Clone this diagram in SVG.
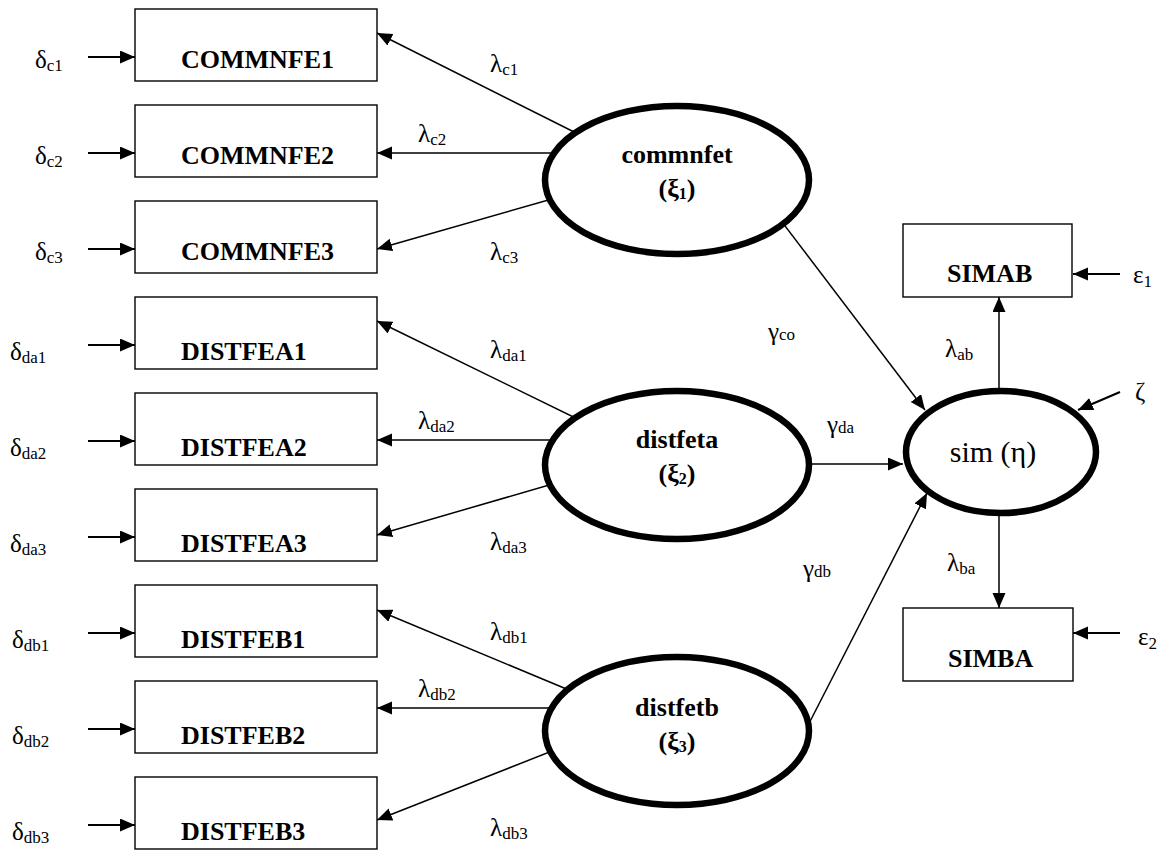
<svg xmlns="http://www.w3.org/2000/svg" width="1168" height="850" viewBox="0 0 1168 850">
  <style>
    .box { fill: #fff; stroke: #000; stroke-width: 1.4; }
    .lat { fill: #fff; stroke: #000; stroke-width: 6.5; }
    .lbl { font-family: "Liberation Serif", "Times New Roman", serif; font-size: 26px; font-weight: bold; fill: #000; }
    .sym { font-family: "Liberation Serif", "Times New Roman", serif; font-size: 25px; fill: #000; }
    .big { font-family: "Liberation Serif", "Times New Roman", serif; font-size: 30px; fill: #000; }
    .sub { font-size: 17px; }
    .edge { stroke: #000; stroke-width: 1.5; fill: none; marker-end: url(#head); }
    .err { stroke: #000; stroke-width: 2; fill: none; marker-end: url(#head); }
  </style>
  <defs>
    <marker id="head" markerUnits="userSpaceOnUse" markerWidth="16" markerHeight="14" refX="15" refY="6.5" orient="auto">
      <path d="M0,0 L15,6.5 L0,13 Z" fill="#000"/>
    </marker>
  </defs>
  <rect width="1168" height="850" fill="#fff"/>

  <!-- connectors (drawn first so the latent ellipses cover their inner ends) -->
  <g id="connectors">
    <!-- error terms into indicators -->
    <line class="err" x1="88" y1="57" x2="135" y2="57"/>
    <line class="err" x1="88" y1="153" x2="135" y2="153"/>
    <line class="err" x1="88" y1="249" x2="135" y2="249"/>
    <line class="err" x1="88" y1="345" x2="135" y2="345"/>
    <line class="err" x1="88" y1="441" x2="135" y2="441"/>
    <line class="err" x1="88" y1="537" x2="135" y2="537"/>
    <line class="err" x1="88" y1="633" x2="135" y2="633"/>
    <line class="err" x1="88" y1="729" x2="135" y2="729"/>
    <line class="err" x1="88" y1="825" x2="135" y2="825"/>
    <!-- commnfet loadings -->
    <line class="edge" x1="600" y1="145" x2="377" y2="33"/>
    <line class="edge" x1="580" y1="153" x2="377" y2="153"/>
    <line class="edge" x1="580" y1="191" x2="377" y2="249"/>
    <!-- distfeta loadings -->
    <line class="edge" x1="600" y1="430" x2="377" y2="321"/>
    <line class="edge" x1="580" y1="440" x2="377" y2="440"/>
    <line class="edge" x1="580" y1="476" x2="377" y2="535"/>
    <!-- distfetb loadings -->
    <line class="edge" x1="600" y1="703" x2="377" y2="610"/>
    <line class="edge" x1="580" y1="708" x2="377" y2="708"/>
    <line class="edge" x1="580" y1="740" x2="377" y2="820"/>
    <!-- structural paths -->
    <line class="edge" x1="760" y1="193" x2="925" y2="410"/>
    <line class="edge" x1="790" y1="464" x2="903" y2="464"/>
    <line class="edge" x1="800" y1="741" x2="927" y2="493"/>
    <!-- sim indicators and disturbances -->
    <line class="edge" x1="999" y1="400" x2="999" y2="297"/>
    <line class="edge" x1="999" y1="500" x2="999" y2="608"/>
    <line class="err" x1="1120" y1="392" x2="1078" y2="410"/>
    <line class="err" x1="1120" y1="274" x2="1073" y2="274"/>
    <line class="err" x1="1120" y1="633" x2="1073" y2="633"/>
  </g>

  <!-- indicator boxes -->
  <g id="COMMNFE1"><rect class="box" x="135" y="9" width="242" height="72"/><text class="lbl" x="181" y="68">COMMNFE1</text></g>
  <g id="COMMNFE2"><rect class="box" x="135" y="105" width="242" height="72"/><text class="lbl" x="181" y="164">COMMNFE2</text></g>
  <g id="COMMNFE3"><rect class="box" x="135" y="201" width="242" height="72"/><text class="lbl" x="181" y="260">COMMNFE3</text></g>
  <g id="DISTFEA1"><rect class="box" x="135" y="297" width="242" height="72"/><text class="lbl" x="181" y="360">DISTFEA1</text></g>
  <g id="DISTFEA2"><rect class="box" x="135" y="393" width="242" height="72"/><text class="lbl" x="181" y="456">DISTFEA2</text></g>
  <g id="DISTFEA3"><rect class="box" x="135" y="489" width="242" height="72"/><text class="lbl" x="181" y="552">DISTFEA3</text></g>
  <g id="DISTFEB1"><rect class="box" x="135" y="585" width="242" height="72"/><text class="lbl" x="181" y="648">DISTFEB1</text></g>
  <g id="DISTFEB2"><rect class="box" x="135" y="681" width="242" height="72"/><text class="lbl" x="181" y="744">DISTFEB2</text></g>
  <g id="DISTFEB3"><rect class="box" x="135" y="777" width="242" height="72"/><text class="lbl" x="181" y="840">DISTFEB3</text></g>
  <g id="SIMAB"><rect class="box" x="903" y="224" width="169" height="73"/><text class="lbl" x="947" y="282">SIMAB</text></g>
  <g id="SIMBA"><rect class="box" x="903" y="608" width="170" height="73"/><text class="lbl" x="948" y="667">SIMBA</text></g>

  <!-- latent variables -->
  <g id="commnfet">
    <ellipse class="lat" cx="677" cy="180" rx="132" ry="74"/>
    <text class="lbl" x="677" y="163" text-anchor="middle">commnfet</text>
    <text class="lbl" x="677" y="197" text-anchor="middle">(ξ<tspan font-size="16" dy="2">1</tspan><tspan dy="-2">)</tspan></text>
  </g>
  <g id="distfeta">
    <ellipse class="lat" cx="677" cy="465" rx="132" ry="74"/>
    <text class="lbl" x="677" y="448" text-anchor="middle">distfeta</text>
    <text class="lbl" x="677" y="482" text-anchor="middle">(ξ<tspan font-size="16" dy="2">2</tspan><tspan dy="-2">)</tspan></text>
  </g>
  <g id="distfetb">
    <ellipse class="lat" cx="677" cy="731" rx="132" ry="74"/>
    <text class="lbl" x="677" y="716" text-anchor="middle">distfetb</text>
    <text class="lbl" x="677" y="750" text-anchor="middle">(ξ<tspan font-size="16" dy="2">3</tspan><tspan dy="-2">)</tspan></text>
  </g>
  <g id="sim">
    <ellipse class="lat" cx="1001" cy="452" rx="95" ry="61"/>
    <text class="big" x="993" y="462" text-anchor="middle">sim (η)</text>
  </g>

  <!-- measurement error labels -->
  <g id="error-labels" class="sym">
    <text x="35" y="68">δ<tspan class="sub" dy="3">c1</tspan></text>
    <text x="35" y="164">δ<tspan class="sub" dy="3">c2</tspan></text>
    <text x="35" y="260">δ<tspan class="sub" dy="3">c3</tspan></text>
    <text x="10" y="360">δ<tspan class="sub" dy="3">da1</tspan></text>
    <text x="10" y="456">δ<tspan class="sub" dy="3">da2</tspan></text>
    <text x="10" y="552">δ<tspan class="sub" dy="3">da3</tspan></text>
    <text x="12" y="648">δ<tspan class="sub" dy="3">db1</tspan></text>
    <text x="12" y="744">δ<tspan class="sub" dy="3">db2</tspan></text>
    <text x="12" y="840">δ<tspan class="sub" dy="3">db3</tspan></text>
    <text x="1133" y="283">ε<tspan class="sub" dy="4">1</tspan></text>
    <text x="1138" y="645">ε<tspan class="sub" dy="4">2</tspan></text>
    <text x="1135" y="400">ζ</text>
  </g>

  <!-- path coefficient labels -->
  <g id="path-labels" class="sym">
    <text x="490" y="72">λ<tspan class="sub" dy="3">c1</tspan></text>
    <text x="418" y="142">λ<tspan class="sub" dy="3">c2</tspan></text>
    <text x="490" y="260">λ<tspan class="sub" dy="3">c3</tspan></text>
    <text x="490" y="358">λ<tspan class="sub" dy="3">da1</tspan></text>
    <text x="418" y="429">λ<tspan class="sub" dy="3">da2</tspan></text>
    <text x="490" y="550">λ<tspan class="sub" dy="3">da3</tspan></text>
    <text x="490" y="640">λ<tspan class="sub" dy="3">db1</tspan></text>
    <text x="418" y="697">λ<tspan class="sub" dy="3">db2</tspan></text>
    <text x="490" y="836">λ<tspan class="sub" dy="3">db3</tspan></text>
    <text x="945" y="357">λ<tspan class="sub" dy="3">ab</tspan></text>
    <text x="947" y="571">λ<tspan class="sub" dy="3">ba</tspan></text>
    <text x="768" y="340">γ<tspan class="sub">co</tspan></text>
    <text x="827" y="433">γ<tspan class="sub">da</tspan></text>
    <text x="803" y="577">γ<tspan class="sub">db</tspan></text>
  </g>
</svg>
